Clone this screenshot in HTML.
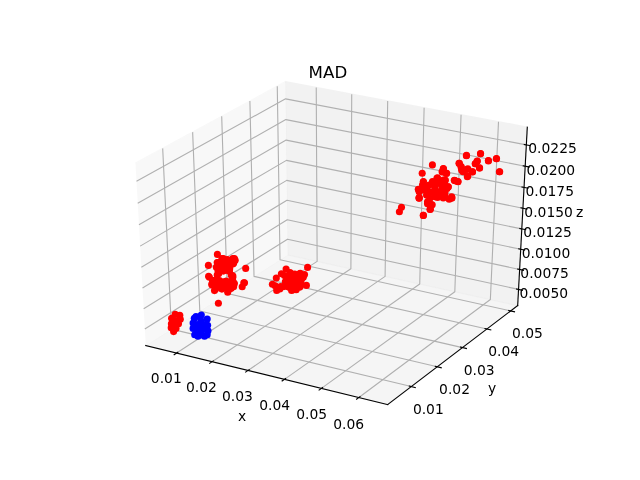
<!DOCTYPE html>
<html><head><meta charset="utf-8"><title>MAD</title>
<style>html,body{margin:0;padding:0;background:#fff;} svg{display:block;} svg text{filter:grayscale(1);}</style>
</head><body>
<svg width="640" height="480" viewBox="0 0 460.8 345.6" version="1.1">
 <defs>
  <style type="text/css">*{stroke-linejoin: round; stroke-linecap: butt}</style>
 </defs>
 <g id="figure_1">
  <g id="patch_1">
   <path d="M 0 345.6 
L 460.8 345.6 
L 460.8 0 
L 0 0 
z
" style="fill: #ffffff"/>
  </g>
  <g id="patch_2">
   <path d="M 57.6 307.584 
L 414.72 307.584 
L 414.72 41.472 
L 57.6 41.472 
z
" style="fill: #ffffff"/>
  </g>
  <g id="pane3d_1">
   <g id="patch_3">
    <path d="M 104.941774 248.782626 
L 207.151387 183.537994 
L 205.449705 58.866209 
L 97.541237 117.48717 
" style="fill: #f2f2f2; opacity: 0.5; stroke: #f2f2f2; stroke-linejoin: miter"/>
   </g>
  </g>
  <g id="pane3d_2">
   <g id="patch_4">
    <path d="M 207.151387 183.537994 
L 372.72135 220.013954 
L 379.648599 91.582742 
L 205.449705 58.866209 
" style="fill: #e6e6e6; opacity: 0.5; stroke: #e6e6e6; stroke-linejoin: miter"/>
   </g>
  </g>
  <g id="pane3d_3">
   <g id="patch_5">
    <path d="M 104.941774 248.782626 
L 279.143747 291.264825 
L 372.72135 220.013954 
L 207.151387 183.537994 
" style="fill: #ececec; opacity: 0.5; stroke: #ececec; stroke-linejoin: miter"/>
   </g>
  </g>
  <g id="grid3d_1">
   <g id="Line3DCollection_1">
    <path d="M 127.159265 254.20075 
L 228.329827 188.203719 
L 227.689597 63.043114 
" style="fill: none; stroke: #b0b0b0; stroke-width: 0.8"/>
    <path d="M 152.690715 260.427041 
L 252.644852 193.560451 
L 253.238553 67.841498 
" style="fill: none; stroke: #b0b0b0; stroke-width: 0.8"/>
    <path d="M 178.572493 266.738765 
L 277.26911 198.985308 
L 279.129091 72.704036 
" style="fill: none; stroke: #b0b0b0; stroke-width: 0.8"/>
    <path d="M 204.811858 273.137694 
L 302.208538 204.479599 
L 305.368108 77.632021 
" style="fill: none; stroke: #b0b0b0; stroke-width: 0.8"/>
    <path d="M 231.416275 279.625646 
L 327.469225 210.044665 
L 331.962688 82.626786 
" style="fill: none; stroke: #b0b0b0; stroke-width: 0.8"/>
    <path d="M 258.393413 286.204493 
L 353.05742 215.681883 
L 358.920106 87.689695 
" style="fill: none; stroke: #b0b0b0; stroke-width: 0.8"/>
   </g>
  </g>
  <g id="grid3d_2">
   <g id="Line3DCollection_2">
    <path d="M 117.134343 106.843272 
L 123.440973 236.973821 
L 296.127185 278.333475 
" style="fill: none; stroke: #b0b0b0; stroke-width: 0.8"/>
    <path d="M 138.703661 95.125803 
L 143.836328 223.954621 
L 314.82751 264.094871 
" style="fill: none; stroke: #b0b0b0; stroke-width: 0.8"/>
    <path d="M 159.623362 83.761236 
L 163.647807 211.308132 
L 332.968525 250.28213 
" style="fill: none; stroke: #b0b0b0; stroke-width: 0.8"/>
    <path d="M 179.922359 72.733865 
L 182.90013 199.018577 
L 350.574954 236.876429 
" style="fill: none; stroke: #b0b0b0; stroke-width: 0.8"/>
    <path d="M 199.627874 62.028902 
L 201.616638 187.071053 
L 367.670083 223.860036 
" style="fill: none; stroke: #b0b0b0; stroke-width: 0.8"/>
   </g>
  </g>
  <g id="grid3d_3">
   <g id="Line3DCollection_3">
    <path d="M 373.350029 208.358245 
L 206.996646 172.20104 
L 104.271193 236.885612 
" style="fill: none; stroke: #b0b0b0; stroke-width: 0.8"/>
    <path d="M 374.123779 194.012914 
L 206.806281 158.254175 
L 103.445583 222.238191 
" style="fill: none; stroke: #b0b0b0; stroke-width: 0.8"/>
    <path d="M 374.906628 179.498881 
L 206.613771 144.150206 
L 102.609942 207.412787 
" style="fill: none; stroke: #b0b0b0; stroke-width: 0.8"/>
    <path d="M 375.698739 164.813155 
L 206.419081 129.886462 
L 101.764084 192.406134 
" style="fill: none; stroke: #b0b0b0; stroke-width: 0.8"/>
    <path d="M 376.500275 149.952669 
L 206.222173 115.460212 
L 100.907821 177.21489 
" style="fill: none; stroke: #b0b0b0; stroke-width: 0.8"/>
    <path d="M 377.311407 134.914286 
L 206.023009 100.868665 
L 100.040961 161.835626 
" style="fill: none; stroke: #b0b0b0; stroke-width: 0.8"/>
    <path d="M 378.132307 119.694792 
L 205.82155 86.108962 
L 99.163305 146.26483 
" style="fill: none; stroke: #b0b0b0; stroke-width: 0.8"/>
    <path d="M 378.963153 104.290896 
L 205.617755 71.178179 
L 98.27465 130.498903 
" style="fill: none; stroke: #b0b0b0; stroke-width: 0.8"/>
   </g>
  </g>
  <g id="axis3d_1">
   <g id="line2d_1">
    <path d="M 104.941774 248.782626 
L 279.143747 291.264825 
" style="fill: none; stroke: #000000; stroke-width: 0.8; stroke-linecap: square"/>
   </g>
   <g id="xtick_1">
    <g id="line2d_2">
     <path d="M 128.031095 253.632026 
L 125.412344 255.340327 
" style="fill: none; stroke: #000000; stroke-width: 0.8; stroke-linecap: square"/>
    </g>
    <g id="text_1">
     <text style="font-size: 10px; font-family: 'DejaVu Sans', sans-serif; text-anchor: middle" x="119.837737" y="275.721017" transform="translate(-0.080 0.044) rotate(-0 119.837737 275.721017)">0.01</text>
    </g>
   </g>
   <g id="xtick_2">
    <g id="line2d_3">
     <path d="M 153.552483 259.850542 
L 150.963934 261.58221 
" style="fill: none; stroke: #000000; stroke-width: 0.8; stroke-linecap: square"/>
    </g>
    <g id="text_2">
     <text style="font-size: 10px; font-family: 'DejaVu Sans', sans-serif; text-anchor: middle" x="145.366558" y="282.053894" transform="translate(-0.312 0.049) rotate(-0 145.366558 282.053894)">0.02</text>
    </g>
   </g>
   <g id="xtick_3">
    <g id="line2d_4">
     <path d="M 179.423839 266.154331 
L 176.866571 267.90985 
" style="fill: none; stroke: #000000; stroke-width: 0.8; stroke-linecap: square"/>
    </g>
    <g id="text_3">
     <text style="font-size: 10px; font-family: 'DejaVu Sans', sans-serif; text-anchor: middle" x="171.246324" y="288.473829" transform="translate(-0.335 0.177) rotate(-0 171.246324 288.473829)">0.03</text>
    </g>
   </g>
   <g id="xtick_4">
    <g id="line2d_5">
     <path d="M 205.652413 272.54516 
L 203.12754 274.325024 
" style="fill: none; stroke: #000000; stroke-width: 0.8; stroke-linecap: square"/>
    </g>
    <g id="text_4">
     <text style="font-size: 10px; font-family: 'DejaVu Sans', sans-serif; text-anchor: middle" x="197.484324" y="294.982631" transform="translate(0.255 0.059) rotate(-0 197.484324 294.982631)">0.04</text>
    </g>
   </g>
   <g id="xtick_5">
    <g id="line2d_6">
     <path d="M 232.245653 279.024842 
L 229.754329 280.829563 
" style="fill: none; stroke: #000000; stroke-width: 0.8; stroke-linecap: square"/>
    </g>
    <g id="text_5">
     <text style="font-size: 10px; font-family: 'DejaVu Sans', sans-serif; text-anchor: middle" x="224.088046" y="301.582156" transform="translate(0.296 0.093) rotate(-0 224.088046 301.582156)">0.05</text>
    </g>
   </g>
   <g id="xtick_6">
    <g id="line2d_7">
     <path d="M 259.211219 285.595246 
L 256.754635 287.425347 
" style="fill: none; stroke: #000000; stroke-width: 0.8; stroke-linecap: square"/>
    </g>
    <g id="text_6">
     <text style="font-size: 10px; font-family: 'DejaVu Sans', sans-serif; text-anchor: middle" x="251.065191" y="308.274316" transform="translate(-0.064 0.574) rotate(-0 251.065191 308.274316)">0.06</text>
    </g>
   </g>
   <g id="text_7">
    <text style="font-size: 10px; font-family: 'DejaVu Sans', sans-serif; text-anchor: middle" x="174.089446" y="303.201942" transform="translate(0.234 -0.236) rotate(-0 174.089446 303.201942)">x</text>
   </g>
  </g>
  <g id="axis3d_2">
   <g id="line2d_8">
    <path d="M 372.72135 220.013954 
L 279.143747 291.264825 
" style="fill: none; stroke: #000000; stroke-width: 0.8; stroke-linecap: square"/>
   </g>
   <g id="xtick_7">
    <g id="line2d_9">
     <path d="M 294.682496 277.987461 
L 299.019765 279.02627 
" style="fill: none; stroke: #000000; stroke-width: 0.8; stroke-linecap: square"/>
    </g>
    <g id="text_8">
     <text style="font-size: 10px; font-family: 'DejaVu Sans', sans-serif; text-anchor: middle" x="308.713101" y="297.990279" transform="translate(-0.309 0.081) rotate(-0 308.713101 297.990279)">0.01</text>
    </g>
   </g>
   <g id="xtick_8">
    <g id="line2d_10">
     <path d="M 313.397951 263.759281 
L 317.689747 264.766782 
" style="fill: none; stroke: #000000; stroke-width: 0.8; stroke-linecap: square"/>
    </g>
    <g id="text_9">
     <text style="font-size: 10px; font-family: 'DejaVu Sans', sans-serif; text-anchor: middle" x="327.213139" y="283.575788" transform="translate(0.049 -0.005) rotate(-0 327.213139 283.575788)">0.02</text>
    </g>
   </g>
   <g id="xtick_9">
    <g id="line2d_11">
     <path d="M 331.553845 249.956501 
L 335.800928 250.934089 
" style="fill: none; stroke: #000000; stroke-width: 0.8; stroke-linecap: square"/>
    </g>
    <g id="text_10">
     <text style="font-size: 10px; font-family: 'DejaVu Sans', sans-serif; text-anchor: middle" x="345.160128" y="269.592211" transform="translate(-0.119 0.308) rotate(-0 345.160128 269.592211)">0.03</text>
    </g>
   </g>
   <g id="xtick_10">
    <g id="line2d_12">
     <path d="M 349.174901 236.560323 
L 353.378024 237.50931 
" style="fill: none; stroke: #000000; stroke-width: 0.8; stroke-linecap: square"/>
    </g>
    <g id="text_11">
     <text style="font-size: 10px; font-family: 'DejaVu Sans', sans-serif; text-anchor: middle" x="362.578504" y="256.020507" transform="translate(0.068 0.233) rotate(-0 362.578504 256.020507)">0.04</text>
    </g>
   </g>
   <g id="xtick_11">
    <g id="line2d_13">
     <path d="M 366.284412 223.553042 
L 370.444317 224.474665 
" style="fill: none; stroke: #000000; stroke-width: 0.8; stroke-linecap: square"/>
    </g>
    <g id="text_12">
     <text style="font-size: 10px; font-family: 'DejaVu Sans', sans-serif; text-anchor: middle" x="379.491283" y="242.842746" transform="translate(0.284 0.484) rotate(-0 379.491283 242.842746)">0.05</text>
    </g>
   </g>
   <g id="text_13">
    <text style="font-size: 10px; font-family: 'DejaVu Sans', sans-serif; text-anchor: middle" x="354.363169" y="282.564107" transform="translate(-0.092 0.346) rotate(-0 354.363169 282.564107)">y</text>
   </g>
  </g>
  <g id="axis3d_3">
   <g id="line2d_14">
    <path d="M 372.72135 220.013954 
L 379.648599 91.582742 
" style="fill: none; stroke: #000000; stroke-width: 0.8; stroke-linecap: square"/>
   </g>
   <g id="xtick_12">
    <g id="line2d_15">
     <path d="M 371.961832 208.056518 
L 376.129321 208.962329 
" style="fill: none; stroke: #000000; stroke-width: 0.8; stroke-linecap: square"/>
    </g>
    <g id="text_14">
     <text style="font-size: 10px; font-family: 'DejaVu Sans', sans-serif; text-anchor: middle" x="391.767731" y="214.004063" transform="translate(-0.222 0.465) rotate(-0 391.767731 214.004063)">0.0050</text>
    </g>
   </g>
   <g id="xtick_13">
    <g id="line2d_16">
     <path d="M 372.7272 193.71444 
L 376.919871 194.610488 
" style="fill: none; stroke: #000000; stroke-width: 0.8; stroke-linecap: square"/>
    </g>
    <g id="text_15">
     <text style="font-size: 10px; font-family: 'DejaVu Sans', sans-serif; text-anchor: middle" x="392.64715" y="199.679805" transform="translate(-0.490 0.391) rotate(-0 392.64715 199.679805)">0.0075</text>
    </g>
   </g>
   <g id="xtick_14">
    <g id="line2d_17">
     <path d="M 373.501565 179.203758 
L 377.719724 180.089751 
" style="fill: none; stroke: #000000; stroke-width: 0.8; stroke-linecap: square"/>
    </g>
    <g id="text_16">
     <text style="font-size: 10px; font-family: 'DejaVu Sans', sans-serif; text-anchor: middle" x="393.536887" y="185.187478" transform="translate(-0.428 0.449) rotate(-0 393.536887 185.187478)">0.0100</text>
    </g>
   </g>
   <g id="xtick_15">
    <g id="line2d_18">
     <path d="M 374.285087 164.521483 
L 378.529046 165.397119 
" style="fill: none; stroke: #000000; stroke-width: 0.8; stroke-linecap: square"/>
    </g>
    <g id="text_17">
     <text style="font-size: 10px; font-family: 'DejaVu Sans', sans-serif; text-anchor: middle" x="394.437125" y="170.524106" transform="translate(-0.167 0.108) rotate(-0 394.437125 170.524106)">0.0125</text>
    </g>
   </g>
   <g id="xtick_16">
    <g id="line2d_19">
     <path d="M 375.07793 149.664551 
L 379.348006 150.529521 
" style="fill: none; stroke: #000000; stroke-width: 0.8; stroke-linecap: square"/>
    </g>
    <g id="text_18">
     <text style="font-size: 10px; font-family: 'DejaVu Sans', sans-serif; text-anchor: middle" x="395.348051" y="155.686643" transform="translate(-0.343 0.409) rotate(-0 395.348051 155.686643)">0.0150</text>
    </g>
   </g>
   <g id="xtick_17">
    <g id="line2d_20">
     <path d="M 375.880261 134.629829 
L 380.176776 135.483813 
" style="fill: none; stroke: #000000; stroke-width: 0.8; stroke-linecap: square"/>
    </g>
    <g id="text_19">
     <text style="font-size: 10px; font-family: 'DejaVu Sans', sans-serif; text-anchor: middle" x="396.269857" y="140.671969" transform="translate(-0.439 0.453) rotate(-0 396.269857 140.671969)">0.0175</text>
    </g>
   </g>
   <g id="xtick_18">
    <g id="line2d_21">
     <path d="M 376.692251 119.414105 
L 381.015535 120.256775 
" style="fill: none; stroke: #000000; stroke-width: 0.8; stroke-linecap: square"/>
    </g>
    <g id="text_20">
     <text style="font-size: 10px; font-family: 'DejaVu Sans', sans-serif; text-anchor: middle" x="397.202738" y="125.476892" transform="translate(-0.558 0.587) rotate(-0 397.202738 125.476892)">0.0200</text>
    </g>
   </g>
   <g id="xtick_19">
    <g id="line2d_22">
     <path d="M 377.514075 104.014091 
L 381.864464 104.845109 
" style="fill: none; stroke: #000000; stroke-width: 0.8; stroke-linecap: square"/>
    </g>
    <g id="text_21">
     <text style="font-size: 10px; font-family: 'DejaVu Sans', sans-serif; text-anchor: middle" x="398.146896" y="110.098139" transform="translate(-0.312 -0.062) rotate(-0 398.146896 110.098139)">0.0225</text>
    </g>
   </g>
   <g id="text_22">
    <text style="font-size: 10px; font-family: 'DejaVu Sans', sans-serif; text-anchor: middle" x="416.839969" y="156.135288" transform="translate(0.493 -0.041) rotate(-0 416.839969 156.135288)">z</text>
   </g>
  </g>
  <g id="axes_1">
   <g id="text_23">
    <text style="font-size: 12px; font-family: 'DejaVu Sans', sans-serif; text-anchor: middle" x="236.16" y="56.76096" transform="translate(-0.063 -0.634) rotate(-0 236.16 56.76096)">MAD</text>
   </g>
  </g>
 </g>
<g transform="scale(0.72)"><g fill="#ff0000" stroke="#ff0000" stroke-width="0"><circle cx="466.5" cy="155.4" r="3.55"/><circle cx="480.6" cy="153.5" r="3.55"/><circle cx="488.4" cy="160.5" r="3.55"/><circle cx="496.5" cy="158.6" r="3.55"/><circle cx="499.7" cy="171.7" r="3.55"/><circle cx="432.4" cy="164.9" r="3.55"/><circle cx="422.2" cy="173.2" r="3.55"/><circle cx="423.4" cy="215.4" r="3.55"/><circle cx="401.5" cy="207.2" r="3.55"/><circle cx="399.4" cy="211.7" r="3.55"/><circle cx="430.0" cy="209.4" r="3.55"/><circle cx="459.0" cy="163.3" r="3.55"/><circle cx="461.2" cy="167.6" r="3.55"/><circle cx="462.8" cy="171.3" r="3.55"/><circle cx="466.9" cy="169.5" r="3.55"/><circle cx="467.8" cy="176.0" r="3.55"/><circle cx="472.5" cy="171.9" r="3.55"/><circle cx="475.3" cy="163.8" r="3.55"/><circle cx="477.2" cy="161.0" r="3.55"/><circle cx="479.6" cy="168.0" r="3.55"/><circle cx="454.3" cy="180.2" r="3.55"/><circle cx="457.9" cy="181.7" r="3.55"/><circle cx="443.4" cy="168.5" r="3.55"/><circle cx="442.5" cy="171.9" r="3.55"/><circle cx="446.2" cy="173.4" r="3.55"/><circle cx="423.4" cy="181.6" r="3.55"/><circle cx="436.9" cy="178.4" r="3.55"/><circle cx="445.3" cy="180.3" r="3.55"/><circle cx="420.0" cy="190.6" r="3.55"/><circle cx="419.0" cy="198.1" r="3.55"/><circle cx="448.1" cy="186.9" r="3.55"/><circle cx="451.9" cy="198.1" r="3.55"/><circle cx="427.5" cy="203.8" r="3.55"/><circle cx="432.2" cy="204.7" r="3.55"/><circle cx="443.3" cy="168.8" r="3.55"/><circle cx="442.1" cy="171.7" r="3.55"/><circle cx="446.7" cy="173.3" r="3.55"/><circle cx="437.5" cy="177.9" r="3.55"/><circle cx="445.0" cy="180.0" r="3.55"/><circle cx="455.4" cy="180.8" r="3.55"/><circle cx="423.3" cy="182.1" r="3.55"/><circle cx="432.5" cy="182.5" r="3.55"/><circle cx="439.2" cy="183.3" r="3.55"/><circle cx="448.3" cy="186.7" r="3.55"/><circle cx="419.2" cy="191.2" r="3.55"/><circle cx="426.7" cy="187.5" r="3.55"/><circle cx="435.0" cy="187.5" r="3.55"/><circle cx="441.7" cy="190.0" r="3.55"/><circle cx="451.7" cy="196.7" r="3.55"/><circle cx="419.2" cy="197.5" r="3.55"/><circle cx="428.3" cy="195.0" r="3.55"/><circle cx="436.7" cy="195.0" r="3.55"/><circle cx="445.0" cy="195.0" r="3.55"/><circle cx="423.3" cy="215.4" r="3.55"/><circle cx="430.4" cy="209.2" r="3.55"/><circle cx="430.8" cy="204.2" r="3.55"/><circle cx="427.5" cy="201.7" r="3.55"/><circle cx="419.2" cy="198.3" r="3.55"/><circle cx="451.7" cy="197.9" r="3.55"/><circle cx="449.2" cy="199.2" r="3.55"/><circle cx="443.3" cy="197.9" r="3.55"/><circle cx="437.5" cy="197.5" r="3.55"/><circle cx="430.0" cy="198.3" r="3.55"/><circle cx="419.2" cy="191.7" r="3.55"/><circle cx="425.0" cy="190.0" r="3.55"/><circle cx="443.3" cy="193.3" r="3.55"/><circle cx="435.0" cy="192.5" r="3.55"/><circle cx="426.7" cy="195.0" r="3.55"/><circle cx="466.4" cy="155.7" r="3.55"/><circle cx="480.5" cy="153.7" r="3.55"/><circle cx="488.4" cy="160.9" r="3.55"/><circle cx="496.4" cy="158.7" r="3.55"/><circle cx="499.4" cy="171.8" r="3.55"/><circle cx="459.4" cy="163.4" r="3.55"/><circle cx="461.2" cy="166.5" r="3.55"/><circle cx="477.2" cy="161.3" r="3.55"/><circle cx="475.3" cy="163.7" r="3.55"/><circle cx="479.5" cy="167.9" r="3.55"/><circle cx="467.8" cy="168.8" r="3.55"/><circle cx="472.5" cy="171.7" r="3.55"/><circle cx="463.1" cy="171.7" r="3.55"/><circle cx="467.3" cy="176.8" r="3.55"/><circle cx="461.7" cy="170.2" r="3.55"/><circle cx="454.7" cy="180.6" r="3.55"/><circle cx="458.0" cy="181.5" r="3.55"/><circle cx="245.7" cy="268.4" r="3.55"/><circle cx="208.6" cy="276.2" r="3.55"/><circle cx="234.4" cy="258.6" r="3.55"/><circle cx="232.8" cy="264.1" r="3.55"/><circle cx="223.4" cy="258.6" r="3.55"/><circle cx="218.0" cy="262.5" r="3.55"/><circle cx="220.3" cy="268.0" r="3.55"/><circle cx="229.7" cy="268.8" r="3.55"/><circle cx="218.8" cy="273.4" r="3.55"/><circle cx="232.8" cy="275.8" r="3.55"/><circle cx="213.3" cy="280.5" r="3.55"/><circle cx="223.4" cy="282.0" r="3.55"/><circle cx="232.8" cy="281.2" r="3.55"/><circle cx="243.8" cy="282.8" r="3.55"/><circle cx="218.4" cy="303.3" r="3.55"/><circle cx="244.5" cy="282.8" r="3.55"/><circle cx="242.2" cy="286.7" r="3.55"/><circle cx="214.5" cy="290.6" r="3.55"/><circle cx="227.7" cy="292.2" r="3.55"/><circle cx="229.7" cy="289.1" r="3.55"/><circle cx="212.5" cy="283.6" r="3.55"/><circle cx="232.8" cy="284.4" r="3.55"/><circle cx="221.9" cy="285.2" r="3.55"/><circle cx="217.2" cy="286.7" r="3.55"/><circle cx="232.8" cy="277.3" r="3.55"/><circle cx="209.4" cy="277.3" r="3.55"/><circle cx="307.6" cy="267.4" r="3.55"/><circle cx="286.1" cy="269.0" r="3.55"/><circle cx="281.4" cy="273.7" r="3.55"/><circle cx="276.3" cy="278.0" r="3.55"/><circle cx="272.4" cy="284.2" r="3.55"/><circle cx="276.7" cy="290.5" r="3.55"/><circle cx="280.6" cy="286.6" r="3.55"/><circle cx="291.6" cy="274.1" r="3.55"/><circle cx="286.9" cy="278.8" r="3.55"/><circle cx="299.4" cy="274.1" r="3.55"/><circle cx="304.5" cy="274.5" r="3.55"/><circle cx="301.7" cy="278.8" r="3.55"/><circle cx="306.4" cy="285.4" r="3.55"/><circle cx="299.4" cy="287.3" r="3.55"/><circle cx="293.1" cy="289.7" r="3.55"/><circle cx="287.7" cy="286.6" r="3.55"/><circle cx="293.1" cy="282.7" r="3.55"/><circle cx="297.8" cy="281.9" r="3.55"/><circle cx="179.8" cy="315.2" r="3.55"/><circle cx="175.9" cy="320.6" r="3.55"/><circle cx="175.2" cy="326.1" r="3.55"/><circle cx="171.2" cy="327.7" r="3.55"/><circle cx="173.6" cy="331.6" r="3.55"/><circle cx="437.5" cy="180.8" r="3.55"/><circle cx="443.3" cy="180.0" r="3.55"/><circle cx="429.2" cy="185.0" r="3.55"/><circle cx="435.0" cy="185.8" r="3.55"/><circle cx="441.7" cy="185.0" r="3.55"/><circle cx="446.7" cy="187.5" r="3.55"/><circle cx="425.0" cy="187.5" r="3.55"/><circle cx="422.5" cy="185.0" r="3.55"/><circle cx="418.3" cy="189.2" r="3.55"/><circle cx="430.8" cy="191.7" r="3.55"/><circle cx="437.5" cy="191.7" r="3.55"/><circle cx="445.0" cy="191.7" r="3.55"/><circle cx="426.7" cy="195.0" r="3.55"/><circle cx="435.0" cy="196.7" r="3.55"/><circle cx="443.3" cy="196.7" r="3.55"/><circle cx="221.9" cy="258.6" r="3.55"/><circle cx="232.8" cy="258.6" r="3.55"/><circle cx="235.2" cy="260.2" r="3.55"/><circle cx="217.2" cy="262.5" r="3.55"/><circle cx="222.7" cy="262.5" r="3.55"/><circle cx="228.1" cy="262.5" r="3.55"/><circle cx="233.6" cy="263.3" r="3.55"/><circle cx="216.4" cy="267.2" r="3.55"/><circle cx="221.9" cy="266.4" r="3.55"/><circle cx="227.3" cy="267.2" r="3.55"/><circle cx="218.0" cy="271.1" r="3.55"/><circle cx="223.4" cy="271.1" r="3.55"/><circle cx="228.9" cy="271.1" r="3.55"/><circle cx="217.2" cy="275.0" r="3.55"/><circle cx="231.2" cy="275.0" r="3.55"/><circle cx="213.3" cy="280.5" r="3.55"/><circle cx="219.5" cy="280.5" r="3.55"/><circle cx="225.8" cy="281.2" r="3.55"/><circle cx="232.8" cy="281.2" r="3.55"/><circle cx="211.7" cy="284.4" r="3.55"/><circle cx="218.0" cy="284.4" r="3.55"/><circle cx="224.2" cy="284.4" r="3.55"/><circle cx="231.2" cy="284.4" r="3.55"/><circle cx="215.6" cy="281.2" r="3.55"/><circle cx="221.1" cy="282.0" r="3.55"/><circle cx="226.6" cy="281.2" r="3.55"/><circle cx="232.0" cy="280.5" r="3.55"/><circle cx="234.4" cy="283.6" r="3.55"/><circle cx="212.5" cy="285.2" r="3.55"/><circle cx="218.8" cy="285.9" r="3.55"/><circle cx="224.2" cy="286.7" r="3.55"/><circle cx="229.7" cy="285.9" r="3.55"/><circle cx="233.6" cy="286.7" r="3.55"/><circle cx="215.6" cy="289.1" r="3.55"/><circle cx="221.9" cy="289.1" r="3.55"/><circle cx="228.1" cy="289.8" r="3.55"/><circle cx="231.2" cy="288.3" r="3.55"/><circle cx="290.0" cy="272.5" r="3.55"/><circle cx="294.7" cy="274.1" r="3.55"/><circle cx="300.2" cy="273.3" r="3.55"/><circle cx="284.5" cy="275.6" r="3.55"/><circle cx="289.2" cy="277.2" r="3.55"/><circle cx="293.9" cy="278.0" r="3.55"/><circle cx="298.6" cy="277.2" r="3.55"/><circle cx="303.3" cy="277.2" r="3.55"/><circle cx="285.3" cy="281.9" r="3.55"/><circle cx="290.8" cy="282.7" r="3.55"/><circle cx="296.2" cy="282.7" r="3.55"/><circle cx="300.9" cy="282.7" r="3.55"/><circle cx="283.8" cy="286.6" r="3.55"/><circle cx="289.2" cy="287.3" r="3.55"/><circle cx="294.7" cy="286.6" r="3.55"/><circle cx="300.2" cy="286.6" r="3.55"/><circle cx="291.6" cy="290.5" r="3.55"/><circle cx="296.2" cy="289.7" r="3.55"/><circle cx="275.2" cy="285.8" r="3.55"/><circle cx="279.8" cy="288.9" r="3.55"/><circle cx="447.0" cy="188.5" r="3.55"/><circle cx="444.5" cy="182.5" r="3.55"/><circle cx="432.5" cy="181.5" r="3.55"/><circle cx="229.5" cy="271.0" r="3.55"/><circle cx="227.3" cy="259.5" r="3.55"/><circle cx="217.4" cy="254.4" r="3.55"/><circle cx="208.4" cy="265.4" r="3.55"/><circle cx="212.5" cy="281.0" r="3.55"/><circle cx="180.3" cy="319.3" r="3.55"/><circle cx="178.5" cy="323.8" r="3.55"/><circle cx="176.0" cy="328.4" r="3.55"/><circle cx="175.2" cy="314.2" r="3.55"/><circle cx="171.6" cy="318.3" r="3.55"/><circle cx="171.4" cy="323.8" r="3.55"/></g><g fill="#0000ff" stroke="#0000ff" stroke-width="0"><circle cx="194.3" cy="318.3" r="3.55"/><circle cx="207.2" cy="319.1" r="3.55"/><circle cx="193.1" cy="323.0" r="3.55"/><circle cx="200.9" cy="320.6" r="3.55"/><circle cx="207.6" cy="325.3" r="3.55"/><circle cx="193.1" cy="328.4" r="3.55"/><circle cx="200.2" cy="326.9" r="3.55"/><circle cx="208.0" cy="330.8" r="3.55"/><circle cx="194.7" cy="334.7" r="3.55"/><circle cx="201.7" cy="334.7" r="3.55"/><circle cx="207.2" cy="334.7" r="3.55"/><circle cx="200.2" cy="331.6" r="3.55"/><circle cx="197.0" cy="324.5" r="3.55"/><circle cx="204.0" cy="324.5" r="3.55"/><circle cx="197.0" cy="330.0" r="3.55"/><circle cx="204.0" cy="329.2" r="3.55"/><circle cx="198.0" cy="336.3" r="3.55"/><circle cx="204.5" cy="336.3" r="3.55"/><circle cx="196.0" cy="316.5" r="3.55"/><circle cx="201.3" cy="315.0" r="3.55"/></g></g>
</svg>

</body></html>
